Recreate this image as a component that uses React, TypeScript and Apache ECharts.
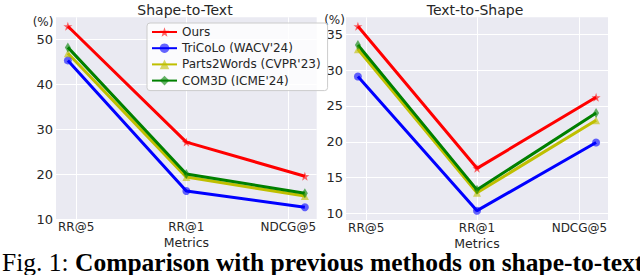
import React, { useEffect, useRef } from "react";
import * as echarts from "echarts";

const categories = ["RR@5", "RR@1", "NDCG@5"];
const methods = ["Ours", "TriCoLo (WACV'24)", "Parts2Words (CVPR'23)", "COM3D (ICME'24)"];
const s2tOurs = [53.0, 27.2, 19.6];
const s2tTriCoLo = [45.4, 16.3, 12.7];
const s2tParts2Words = [47.0, 19.4, 15.2];
const s2tCOM3D = [48.3, 20.1, 15.8];
const t2sOurs = [36.1, 16.3, 26.2];
const t2sTriCoLo = [29.1, 10.4, 19.9];
const t2sParts2Words = [32.9, 12.9, 23.0];
const t2sCOM3D = [33.5, 13.3, 24.0];
const leftYTicks = [10, 20, 30, 40, 50];
const rightYTicks = [10, 15, 20, 25, 30, 35];
const titles = ["Shape-to-Text", "Text-to-Shape"];
const captionLead = "Fig. 1: ";
const captionBold = "Comparison with previous methods on shape-to-text";

const colors = ["#ff0000", "#0000ff", "#bfbf00", "#008000"];
const STAR =
  "path://M0,-10 L2.35,-3.24 L9.51,-3.09 L3.8,1.24 L5.88,8.09 L0,4 L-5.88,8.09 L-3.8,1.24 L-9.51,-3.09 L-2.35,-3.24 Z";
const symbols = [STAR, "circle", "triangle", "diamond"];
const symbolSizes: any[] = [9, 8, 8, [6, 10]];
const tickPos = [0.07, 1, 1.86];
const FONT = "DejaVu Sans";
const TXT = "#262626";

export default function App() {
  const ref = useRef<HTMLDivElement>(null);
  useEffect(() => {
    if (!ref.current) return;
    const chart = echarts.init(ref.current, null, { renderer: "svg" });
    const dataSets = [
      [s2tOurs, s2tTriCoLo, s2tParts2Words, s2tCOM3D],
      [t2sOurs, t2sTriCoLo, t2sParts2Words, t2sCOM3D],
    ];
    const series: any[] = [];
    dataSets.forEach((set, gi) => {
      set.forEach((vals, si) => {
        series.push({
          type: "line",
          name: methods[si],
          xAxisIndex: gi,
          yAxisIndex: gi,
          data: vals.map((v, i) => [i, v]),
          symbol: symbols[si],
          symbolSize: symbolSizes[si],
          showSymbol: true,
          lineStyle: { color: colors[si], width: 3 },
          itemStyle: { color: colors[si], opacity: 0.6 },
          emphasis: { disabled: true },
        });
      });
    });
    const xAxis = (gi: number) => ({
      type: "value",
      gridIndex: gi,
      min: -0.1,
      max: 2.1,
      name: "Metrics",
      nameLocation: "middle",
      nameGap: 17,
      nameMoveOverlap: false,
      nameTextStyle: { fontFamily: FONT, fontSize: 12.5, color: TXT },
      axisLine: { show: false },
      axisTick: { show: false, customValues: tickPos },
      axisLabel: {
        customValues: tickPos,
        margin: 2,
        fontFamily: FONT,
        fontSize: 12,
        color: TXT,
        formatter: (v: number) => {
          const idx = tickPos.findIndex((p) => Math.abs(p - v) < 1e-6);
          return idx >= 0 ? categories[idx] : "";
        },
      },
      splitLine: { show: true, lineStyle: { color: "#ffffff", width: 1 } },
    });
    const yAxis = (gi: number, min: number, max: number, ticks: number[]) => ({
      type: "value",
      gridIndex: gi,
      min,
      max,
      axisLine: { show: false },
      axisTick: { show: false, customValues: ticks },
      axisLabel: { customValues: ticks, margin: 3, fontFamily: FONT, fontSize: 13, color: TXT },
      splitLine: { show: true, lineStyle: { color: "#ffffff", width: 1 } },
    });
    chart.setOption({
      animation: false,
      backgroundColor: "#ffffff",
      grid: [
        { left: 56, top: 17.3, width: 260.7, height: 202, show: true, backgroundColor: "#eaeaf2", borderWidth: 0 },
        { left: 346, top: 17.3, width: 262, height: 202.7, show: true, backgroundColor: "#eaeaf2", borderWidth: 0 },
      ],
      xAxis: [xAxis(0), xAxis(1)],
      yAxis: [yAxis(0, 10, 55, leftYTicks), yAxis(1, 9.1, 37.35, rightYTicks)],
      legend: {
        orient: "vertical",
        left: 147,
        top: 23,
        padding: [3, 7, 4, 4],
        itemWidth: 25,
        itemHeight: 12,
        itemGap: 4.2,
        backgroundColor: "rgba(255,255,255,0.8)",
        borderColor: "#cccccc",
        borderWidth: 1,
        borderRadius: 3,
        textStyle: { fontFamily: FONT, fontSize: 12, color: TXT },
        data: methods,
        selectedMode: false,
      },
      graphic: [
        {
          type: "text",
          x: 185,
          y: 10,
          style: { text: titles[0], font: `14px '${FONT}'`, fill: TXT, textAlign: "center", textVerticalAlign: "middle" },
        },
        {
          type: "text",
          x: 475,
          y: 10,
          style: { text: titles[1], font: `14px '${FONT}'`, fill: TXT, textAlign: "center", textVerticalAlign: "middle" },
        },
        {
          type: "text",
          x: 43,
          y: 22,
          style: { text: "(%)", font: `12px '${FONT}'`, fill: TXT, textAlign: "center", textVerticalAlign: "middle" },
        },
        {
          type: "text",
          x: 334.5,
          y: 20,
          style: { text: "(%)", font: `12px '${FONT}'`, fill: TXT, textAlign: "center", textVerticalAlign: "middle" },
        },
        {
          type: "text",
          x: 2,
          y: 275,
          style: {
            text: `{n|${captionLead}}{b|${captionBold}}`,
            textVerticalAlign: "bottom",
            rich: {
              n: { fontFamily: "Liberation Serif", fontSize: 25.5, fontWeight: "normal", fill: "#000" },
              b: { fontFamily: "Liberation Serif", fontSize: 25.5, fontWeight: "bold", fill: "#000" },
            },
          },
        },
      ],
      series,
    });
    return () => chart.dispose();
  }, []);
  return (
    <div
      ref={ref}
      style={{ position: "fixed", left: 0, top: 0, width: 640, height: 275, background: "#fff" }}
    />
  );
}
